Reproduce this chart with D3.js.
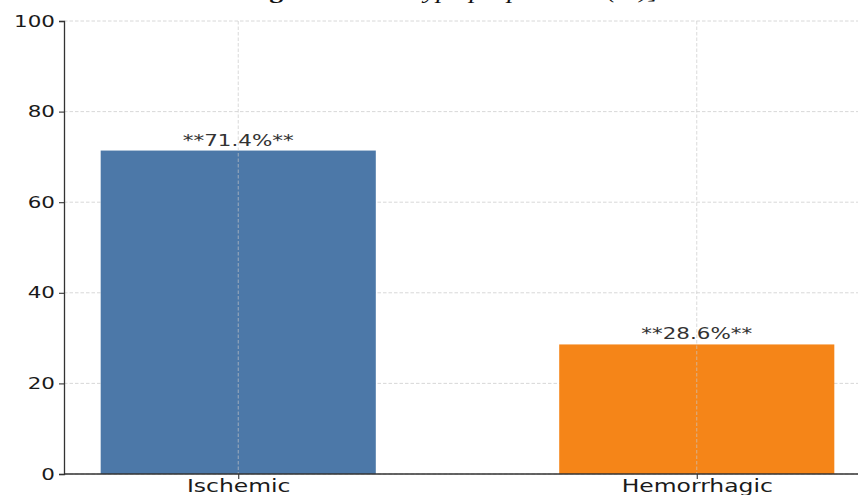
<!DOCTYPE html>
<html>
<head>
<meta charset="utf-8">
<script src="https://cdn.jsdelivr.net/npm/d3@7"></script>
<style>
  html, body { margin: 0; padding: 0; background: #fff; }
  svg { display: block; }
  text { font-family: "DejaVu Sans", sans-serif; fill: #333; }
</style>
</head>
<body>
<svg id="chart" width="858" height="495"></svg>
<script>
// Stroke type shares (%)
const categories = ["Ischemic", "Hemorrhagic"];
const values = [71.4, 28.6];
const valueLabels = ["**71.4%**", "**28.6%**"];
const barColors = ["#4C78A8", "#F58518"];
const yTicks = [0, 20, 40, 60, 80, 100];

const W = 858, H = 495;
const textStretch = 1.34;   // glyphs are drawn horizontally widened

const svg = d3.select("#chart");

const x = d3.scaleLinear().domain([-0.38, 1.38]).range([64, 871]);
const y = d3.scaleLinear().domain([0, 100]).range([474, 21]);
const barWidth = 0.6;

// Title, sitting mostly above the top edge
const title = svg.append("g").attr("transform", `translate(452,-2.5) scale(${textStretch},1)`)
  .append("text")
  .attr("text-anchor", "middle")
  .attr("y", 0)
  .style("font-family", "'Liberation Serif', serif")
  .style("font-size", "20.8px")
  .style("fill", "#111");
title.append("tspan").style("font-weight", "bold").text("Figure: ");
title.append("tspan").style("font-style", "italic").text("Stroke type proportions (%)]");

// Horizontal grid (behind the bars)
svg.append("g")
  .selectAll("line")
  .data(yTicks)
  .join("line")
  .attr("x1", 64).attr("x2", W)
  .attr("y1", d => y(d)).attr("y2", d => y(d))
  .attr("stroke", "#d4d4d4")
  .attr("stroke-width", 0.9)
  .attr("stroke-dasharray", "3.5,2");

// Bars
svg.append("g")
  .selectAll("rect")
  .data(values)
  .join("rect")
  .attr("x", (d, i) => x(i - barWidth / 2))
  .attr("width", (d, i) => x(i + barWidth / 2) - x(i - barWidth / 2))
  .attr("y", d => y(d))
  .attr("height", d => y(0) - y(d))
  .attr("fill", (d, i) => barColors[i]);

// Vertical grid at category positions (drawn over bars)
svg.append("g")
  .selectAll("line")
  .data(categories)
  .join("line")
  .attr("x1", (d, i) => x(i)).attr("x2", (d, i) => x(i))
  .attr("y1", y(100)).attr("y2", y(0))
  .attr("stroke", "#c8c8c8")
  .attr("stroke-opacity", 0.75)
  .attr("stroke-width", 0.9)
  .attr("stroke-dasharray", "3.5,2");

// Value labels above bars
svg.append("g")
  .selectAll("g")
  .data(values)
  .join("g")
  .attr("transform", (d, i) => `translate(${x(i)},${y(d) - 5}) scale(${textStretch},1)`)
  .append("text")
  .attr("text-anchor", "middle")
  .style("font-size", "16px")
  .style("fill", "#333")
  .text((d, i) => valueLabels[i]);

// Y axis
const yAxis = svg.append("g")
  .attr("transform", "translate(64,0)")
  .call(d3.axisLeft(y).tickValues(yTicks).tickSize(5).tickPadding(0).tickFormat(d3.format("d")));
yAxis.select(".domain").attr("stroke", "#333").attr("stroke-width", 1.3);
yAxis.selectAll(".tick line").attr("stroke", "#333").attr("stroke-width", 1.1);
yAxis.selectAll(".tick text")
  .attr("x", -9 / textStretch)
  .attr("transform", `scale(${textStretch},1)`)
  .style("font-size", "16px")
  .style("fill", "#1a1a1a")
  .style("font-family", "'DejaVu Sans', sans-serif");

// X axis
const xAxis = svg.append("g")
  .attr("transform", `translate(0,${y(0)})`)
  .call(d3.axisBottom(x).tickValues([0, 1]).tickSize(5).tickPadding(4)
    .tickFormat(i => categories[i]));
xAxis.select(".domain").attr("d", `M64,0H${W}`).attr("stroke", "#333").attr("stroke-width", 1.3);
xAxis.selectAll(".tick line").attr("stroke", "#333").attr("stroke-width", 1.1);
xAxis.selectAll(".tick text")
  .attr("y", 18)
  .attr("dy", 0)
  .attr("transform", `scale(${textStretch},1)`)
  .style("font-size", "17.5px")
  .style("fill", "#1a1a1a")
  .style("font-family", "'DejaVu Sans', sans-serif");
</script>
</body>
</html>
